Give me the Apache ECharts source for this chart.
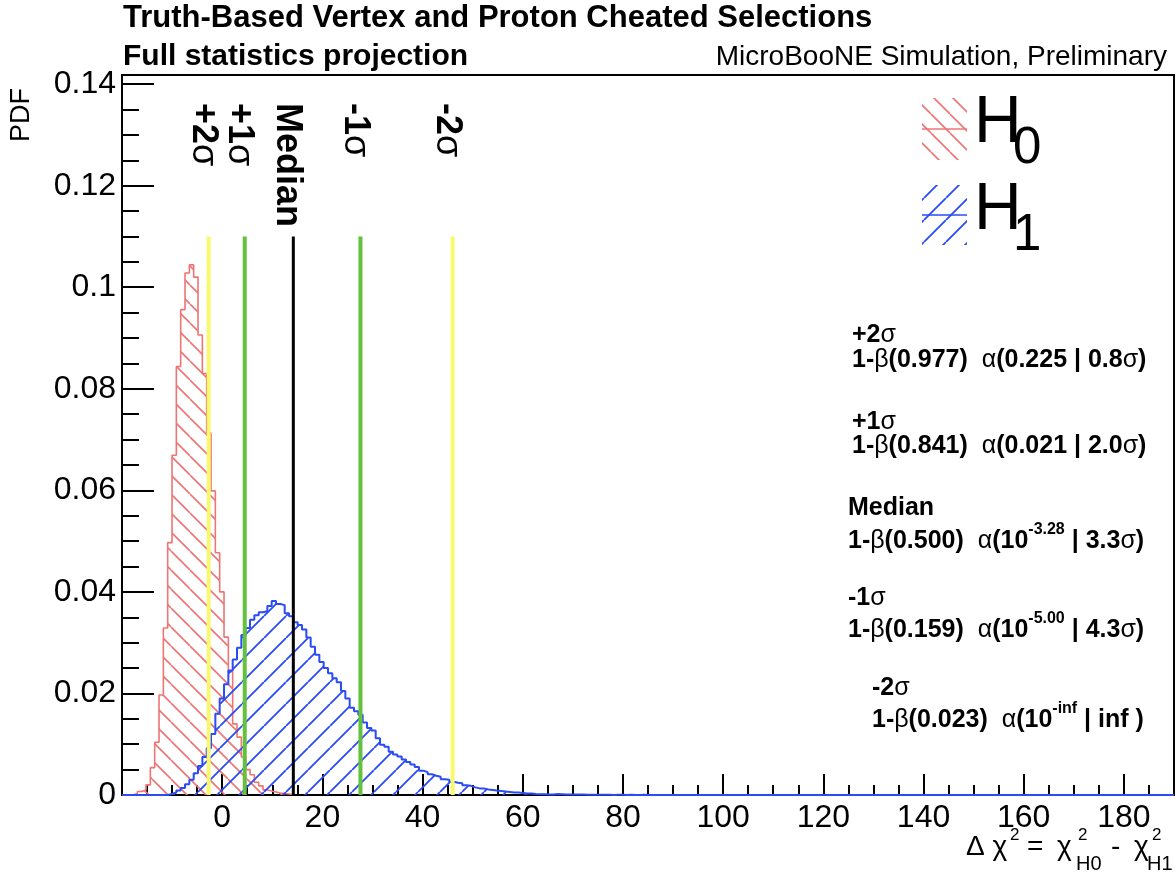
<!DOCTYPE html>
<html><head><meta charset="utf-8">
<script src="https://cdn.jsdelivr.net/npm/echarts@6/dist/echarts.min.js"></script>
<style>html,body{margin:0;padding:0;background:#fff}#c{width:1176px;height:872px}</style>
</head><body><div id="c"></div>
<script>
// ---------------- data ----------------
const binStart = -17.8;      // low edge of histogram bin 0
const binWidth = 0.865;      // bin width in Δχ² units
const h0FirstBin = 0;
const h0Values = [0.0003,0.0007,0.001,0.002,0.0054,0.0104,0.0197,0.0329,0.0497,0.0669,
  0.0844,0.0956,0.1028,0.1044,0.102,0.0906,0.083,0.0713,0.0599,0.0477,
  0.040,0.0311,0.0243,0.014,0.0114,0.0075,0.005,0.004,0.0025,0.0018,
  0.001,0.0008,0.0006,0.0004,0.0003,0.0002,0.0001];
const h1FirstBin = 8;
const h1Values = [0.0002,0.0005,0.0009,0.0014,0.0021,0.003,0.0043,0.0057,0.0075,0.0092,
  0.012,0.016,0.019,0.0218,0.0245,0.0267,0.029,0.0315,0.0329,0.0345,
  0.0354,0.036,0.0362,0.0372,0.0382,0.0376,0.0374,0.0358,0.0352,0.034,
  0.0335,0.0326,0.031,0.0292,0.0276,0.0262,0.025,0.024,0.023,0.0222,
  0.0205,0.019,0.0172,0.0165,0.0158,0.0143,0.0132,0.0127,0.0112,0.0099,
  0.0095,0.0085,0.008,0.0076,0.007,0.0065,0.006,0.0055,0.0048,0.0045,
  0.0041,0.0038,0.0036,0.0031,0.003,0.0026,0.0024,0.0023,0.0019,0.0018,
  0.0015,0.0013,0.0013,0.0011,0.001,0.0009,0.0008,0.0007,0.0006,0.0005,
  0.0005,0.0004,0.0003,0.0003,0.0002,0.00015,0.00013,0.0001,0.0001,0.0002,
  0.00015,0.0001,0.0001,0.0001,0.00008,0.00008,0.00005,0.00005,0.00004,0.00006,
  0.00003,0.00004,0.00002,0.00003,0.00003,0.00002,0.00004,0.00002,0.00002,0.00003,
  0.00002,0.00001,0.00002,0.00002,0.00001,0.00002,0.00001,0.00001,0.00002,0.00001,
  0.00001,0.00001,0.00001,0.00001];
const markerNames = ['+2', '+1', 'Median', '-1', '-2'];
const markerHasSigma = [true, true, false, true, true];
const markerValues = [-2.7, 4.5, 14.2, 27.6, 46.0];
const markerTop = 0.11;
const xMin = -20, xMax = 190, xStep = 20;
const yMin = 0, yMax = 0.1418, yStep = 0.02;
const annotHeads = ['+2σ', '+1σ', 'Median', '-1σ', '-2σ'];
const annotPower = ['0.977', '0.841', '0.500', '0.159', '0.023'];
const annotAlpha = ['0.225', '0.021', '10^-3.28', '10^-5.00', '10^-inf'];
const annotSig = ['0.8σ', '2.0σ', '3.3σ', '4.3σ', 'inf '];

// ---------------- styling ----------------
const FONT = "'Liberation Sans', Arial, Helvetica, sans-serif";
const RED = '#ef7474';
const BLUE = '#2b4bf5';
const YELLOW = '#f9f96e';
const GREEN = '#62c23e';
const markerColors = [YELLOW, GREEN, '#000000', GREEN, YELLOW];
const markerWidths = [4, 4, 3, 4, 4];

function hatch(color, d, dir, lw) {
  const c = document.createElement('canvas');
  c.width = d; c.height = d;
  const ctx = c.getContext('2d');
  ctx.strokeStyle = color; ctx.lineWidth = lw;
  ctx.beginPath();
  for (const o of [-d, 0, d]) {
    if (dir === 'back') { ctx.moveTo(o, 0); ctx.lineTo(o + d, d); }
    else { ctx.moveTo(o, d); ctx.lineTo(o + d, 0); }
  }
  ctx.stroke();
  return { image: c, repeat: 'repeat' };
}
const redHatch = hatch(RED, 19, 'back', 1.6);
const blueHatch = hatch(BLUE, 22, 'fwd', 1.8);

function stepData(firstBin, values) {
  const pts = [];
  const e0 = binStart + firstBin * binWidth;
  pts.push([e0, 0]);
  values.forEach((v, i) => pts.push([binStart + (firstBin + i) * binWidth, v]));
  pts.push([binStart + (firstBin + values.length) * binWidth, 0]);
  return pts;
}

const chart = echarts.init(document.getElementById('c'), null, { renderer: 'canvas' });

const series = [
  {
    type: 'line', name: 'H0', data: stepData(h0FirstBin, h0Values), step: 'end',
    symbol: 'none', showSymbol: false, z: 2,
    lineStyle: { color: RED, width: 1.6 },
    itemStyle: { color: RED },
    areaStyle: { color: redHatch, opacity: 1 }
  },
  {
    type: 'line', name: 'H1',
    data: [[xMin, 0]].concat(stepData(h1FirstBin, h1Values), [[xMax, 0]]), step: 'end',
    symbol: 'none', showSymbol: false, z: 3,
    lineStyle: { color: BLUE, width: 2 },
    itemStyle: { color: BLUE },
    areaStyle: { color: blueHatch, opacity: 1 }
  }
];
markerValues.forEach((v, i) => {
  series.push({
    type: 'line', name: markerNames[i], data: [[v, 0], [v, markerTop]],
    symbol: 'none', showSymbol: false, z: 4,
    lineStyle: { color: markerColors[i], width: markerWidths[i] }
  });
});

chart.setOption({
  animation: false,
  backgroundColor: '#ffffff',
  textStyle: { fontFamily: FONT },
  title: [
    { text: 'Truth-Based Vertex and Proton Cheated Selections', left: 123, top: 3, padding: 0,
      textStyle: { fontSize: 31, fontWeight: 'bold', color: '#000', fontFamily: FONT } },
    { text: 'Full statistics projection', left: 123, top: 42, padding: 0,
      textStyle: { fontSize: 30, fontWeight: 'bold', color: '#000', fontFamily: FONT } },
    { text: 'MicroBooNE Simulation, Preliminary', right: 9, top: 43, padding: 0,
      textStyle: { fontSize: 28, fontWeight: 'normal', color: '#000', fontFamily: FONT } }
  ],
  grid: { left: 122, right: 2, top: 75, bottom: 77, show: true, borderColor: '#000', borderWidth: 2,
    containLabel: false, outerBoundsMode: 'none' },
  xAxis: {
    type: 'value', min: xMin, max: xMax, interval: xStep,
    axisLine: { show: true, onZero: false, lineStyle: { color: '#000', width: 2 } },
    axisTick: { show: true, inside: true, length: 21, lineStyle: { color: '#000', width: 2 } },
    minorTick: { show: true, splitNumber: 4, length: 10, lineStyle: { color: '#000', width: 2 } },
    splitLine: { show: false }, minorSplitLine: { show: false },
    axisLabel: { show: true, showMinLabel: false, showMaxLabel: false, margin: 7,
      fontSize: 32, color: '#000', fontFamily: FONT }
  },
  yAxis: {
    type: 'value', min: yMin, max: yMax, interval: yStep,
    axisLine: { show: true, onZero: false, lineStyle: { color: '#000', width: 2 } },
    axisTick: { show: true, inside: true, length: 32, lineStyle: { color: '#000', width: 2 } },
    minorTick: { show: true, splitNumber: 4, length: 17, lineStyle: { color: '#000', width: 2 } },
    splitLine: { show: false }, minorSplitLine: { show: false },
    axisLabel: { show: true, showMaxLabel: false, margin: 6, fontSize: 32, color: '#000', fontFamily: FONT,
      formatter: v => (v === 0 ? '0' : String(+v.toFixed(4))) }
  },
  series: series
});

// ---------------- text / legend overlays ----------------
function txt(x, y, text, size, weight, opts) {
  opts = opts || {};
  const align = opts.align || 'left';
  const va = opts.va || 'middle';
  return {
    type: 'text', x: x, y: y, rotation: opts.rotation || 0, z: 100, silent: true,
    style: Object.assign({
      text: text, fontSize: size, fontWeight: weight || 'normal', fontFamily: FONT, fill: '#000',
      align: align, textAlign: align, verticalAlign: va, textVerticalAlign: va
    }, opts.style || {})
  };
}

const graphics = [];
// y axis title
graphics.push(txt(22, 115, 'PDF', 27, 'normal', { align: 'center', rotation: Math.PI / 2 }));

// marker labels (rotated, reading downward), placed from the line positions
markerValues.forEach((v, i) => {
  const p = chart.convertToPixel({ xAxisIndex: 0, yAxisIndex: 0 }, [v, markerTop]);
  const t = markerHasSigma[i] ? '{b|' + markerNames[i] + '}{g|σ}' : '{b|' + markerNames[i] + '}';
  graphics.push(txt(p[0] - 6, 103, t, 36, 'bold', {
    rotation: -Math.PI / 2,
    style: { rich: { b: { fontSize: 36, fontWeight: 'bold', fontFamily: FONT },
                     g: { fontSize: 36, fontWeight: 'normal', fontFamily: FONT } } }
  }));
});

// legend
const legendItems = [
  { y0: 98, y1: 160, fill: redHatch, color: RED, sub: '0', hy: 124, sy: 149 },
  { y0: 185, y1: 245, fill: blueHatch, color: BLUE, sub: '1', hy: 211, sy: 236 }
];
legendItems.forEach(it => {
  graphics.push({ type: 'rect', z: 100, silent: true,
    shape: { x: 922, y: it.y0, width: 45, height: it.y1 - it.y0 },
    style: { fill: it.fill, stroke: null } });
  graphics.push({ type: 'line', z: 100, silent: true,
    shape: { x1: 922, y1: (it.y0 + it.y1) / 2, x2: 967, y2: (it.y0 + it.y1) / 2 },
    style: { stroke: it.color, lineWidth: 1.6 } });
  graphics.push(txt(974, it.hy, 'H', 66, 'normal'));
  graphics.push(txt(1013, it.sy, it.sub, 51, 'normal'));
});

// right-hand annotations
const annotX = [852, 852, 848, 848, 872];
const annotHeadY = [335, 422, 508, 598, 688];
const annotLineY = [360, 446, 541, 630, 720];
const richAnn = {
  b: { fontSize: 25, fontWeight: 'bold', fontFamily: FONT, lineHeight: 38 },
  g: { fontSize: 25, fontWeight: 'normal', fontFamily: FONT, lineHeight: 38 },
  s: { fontSize: 16, fontWeight: 'bold', fontFamily: FONT, verticalAlign: 'top', lineHeight: 16 }
};
function greekRich(s) {
  return s.split(/([σβα])/).filter(p => p.length).map(p => /[σβα]/.test(p) ? '{g|' + p + '}' : '{b|' + p + '}').join('');
}
for (let i = 0; i < annotHeads.length; i++) {
  graphics.push(txt(annotX[i], annotHeadY[i], greekRich(annotHeads[i]), 25, 'bold', { style: { rich: richAnn } }));
  let alpha = annotAlpha[i];
  let alphaRich;
  if (alpha.indexOf('^') >= 0) {
    const parts = alpha.split('^');
    alphaRich = '{b|(' + parts[0] + '}{s|' + parts[1] + '}';
  } else {
    alphaRich = '{b|(' + alpha + '}';
  }
  const line = '{b|1-}{g|β}{b|(' + annotPower[i] + ')  }{g|α}' + alphaRich + '{b| | }' + greekRich(annotSig[i]) + '{b|)}';
  graphics.push(txt(annotX[i], annotLineY[i], line, 25, 'bold', { style: { rich: richAnn } }));
}

// x axis title: Δ χ² = χ²_H0 - χ²_H1
graphics.push(txt(966, 847, 'Δ χ', 28, 'normal'));
graphics.push(txt(1010, 835, '2', 17, 'normal'));
graphics.push(txt(1027, 847, '=', 28, 'normal'));
graphics.push(txt(1057, 847, 'χ', 28, 'normal'));
graphics.push(txt(1078, 835, '2', 17, 'normal'));
graphics.push(txt(1076, 864, 'H0', 20, 'normal'));
graphics.push(txt(1111, 847, '-', 28, 'normal'));
graphics.push(txt(1134, 847, 'χ', 28, 'normal'));
graphics.push(txt(1152, 835, '2', 17, 'normal'));
graphics.push(txt(1147, 864, 'H1', 20, 'normal'));

chart.setOption({ graphic: graphics });
</script>
</body></html>
